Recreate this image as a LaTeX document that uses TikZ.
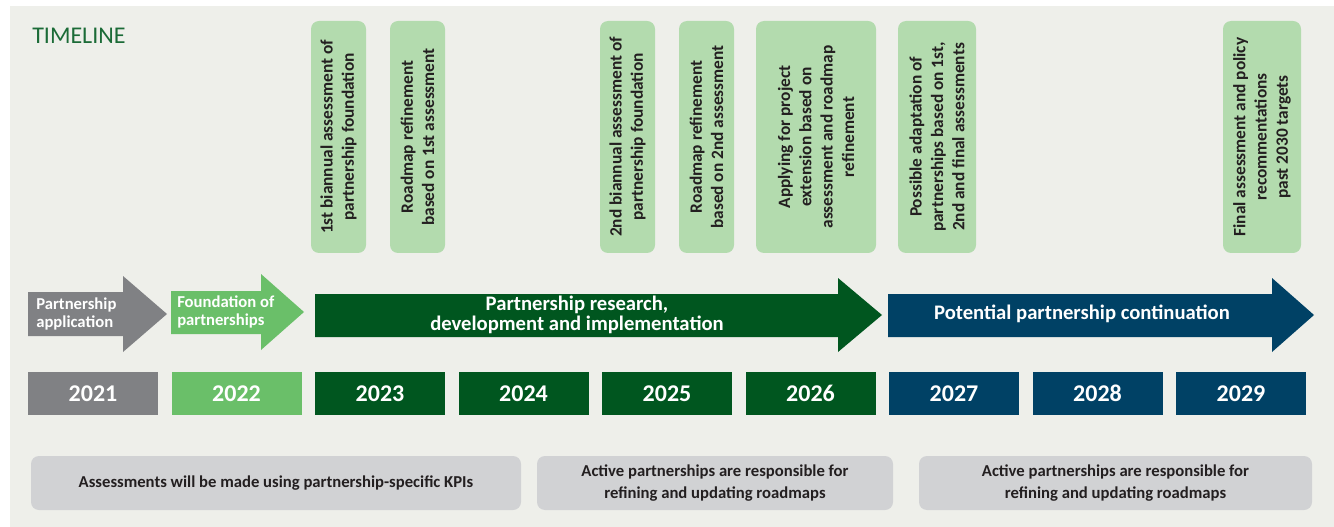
\documentclass[tikz,border=0pt]{standalone}
\usepackage{fontspec}
\setmainfont{Carlito}
\definecolor{bggray}{HTML}{EEEFEA}
\definecolor{appgray}{HTML}{808184}
\definecolor{lgreen}{HTML}{6ABF69}
\definecolor{dgreen}{HTML}{00561F}
\definecolor{dblue}{HTML}{004165}
\definecolor{paleg}{HTML}{B3DBAE}
\definecolor{notegray}{HTML}{D1D2D4}
\definecolor{titlegreen}{HTML}{1B6B37}
\definecolor{ink}{HTML}{231F20}
\tikzset{
  topbox/.style={rotate=90, fill=paleg, rounded corners=6pt, inner sep=0pt,
    minimum width=174pt, align=center, text=ink,
    font=\fontsize{13}{16}\selectfont\bfseries},
  yearbox/.style={minimum width=97.5pt, minimum height=32.25pt, inner sep=0pt,
    text=white, font=\fontsize{18}{20}\selectfont\bfseries},
  notebox/.style={fill=notegray, rounded corners=6pt, minimum height=40.5pt,
    inner sep=0pt, align=center, text=ink,
    font=\fontsize{12.5}{16.5}\selectfont\bfseries},
  arrowtext/.style={text=white, inner sep=0pt, font=\bfseries}
}

\begin{document}
\begin{tikzpicture}[x=0.75pt, y=-0.75pt]
			\useasboundingbox (0,0) rectangle (1334,527);
			% Hintergrund
			\fill[bggray] (10,6) rectangle (1334,527);
			\node[anchor=west, text=titlegreen, font=\fontsize{18}{20}\selectfont, inner sep=0pt] (title) at (32,36) {TIMELINE};
			% Meilensteine oben
			\foreach \cx/\w/\txt [count=\i] in {
				338.5/41.25/{1st biannual assessment of\\partnership foundation},
				417.5/41.25/{Roadmap refinement\\based on 1st assessment},
				627.5/41.25/{2nd biannual assessment of\\partnership foundation},
				706.5/41.25/{Roadmap refinement\\based on 2nd assessment},
				816/90/{Applying for project\\extension based on\\assessment and roadmap\\refinement},
				937/58.5/{Possible adaptation of\\partnerships based on 1st,\\2nd and final assessments},
				1262/58.5/{Final assessment and policy\\recommentations\\past 2030 targets}}
				\node[topbox, minimum height=\w pt] (ms\i) at (\cx,137) {\txt};
			% Pfeile
			\fill[appgray] (28,292) -- (123,292) -- (123,276) -- (167,314) -- (123,352) -- (123,336) -- (28,336) -- cycle;
			\fill[lgreen] (171,291) -- (261,291) -- (261,274) -- (304,312) -- (261,350) -- (261,334) -- (171,334) -- cycle;
			\fill[dgreen] (315,294) -- (838,294) -- (838,278) -- (882,315) -- (838,352) -- (838,337) -- (315,337) -- cycle;
			\fill[dblue] (888,294) -- (1272,294) -- (1272,278) -- (1314,315) -- (1272,352) -- (1272,337) -- (888,337) -- cycle;
			% Pfeile beschriften
			\node[arrowtext, anchor=west, align=left, font=\fontsize{12.5}{13.5}\selectfont\bfseries] (apply) at (36,314) {Partnership\\application};
			\node[arrowtext, anchor=west, align=left, font=\fontsize{12.5}{13.5}\selectfont\bfseries] (found) at (177,312) {Foundation of\\partnerships};
			\node[arrowtext, align=center, font=\fontsize{15.5}{15.5}\selectfont\bfseries] (research) at (577,315) {Partnership research,\\development and implementation};
			\node[arrowtext, font=\fontsize{15.5}{16}\selectfont\bfseries] (contin) at (1082,314) {Potential partnership continuation};
			% Jahre
			\foreach \yr/\col [count=\i from 0] in {2021/appgray,2022/lgreen,2023/dgreen,2024/dgreen,2025/dgreen,2026/dgreen,2027/dblue,2028/dblue,2029/dblue}
				\node[yearbox, fill=\col] (y\yr) at (93+143.5*\i,393.5) {\yr};
			% Hinweise unten
			\node[notebox, minimum width=367.5pt] (note1) at (276,483) {Assessments will be made using partnership-specific KPIs};
			\node[notebox, minimum width=267pt] (note2) at (715,483) {Active partnerships are responsible for\\refining and updating roadmaps};
			\node[notebox, minimum width=294.75pt] (note3) at (1115.5,483) {Active partnerships are responsible for\\refining and updating roadmaps};
		\end{tikzpicture}
\end{document}
